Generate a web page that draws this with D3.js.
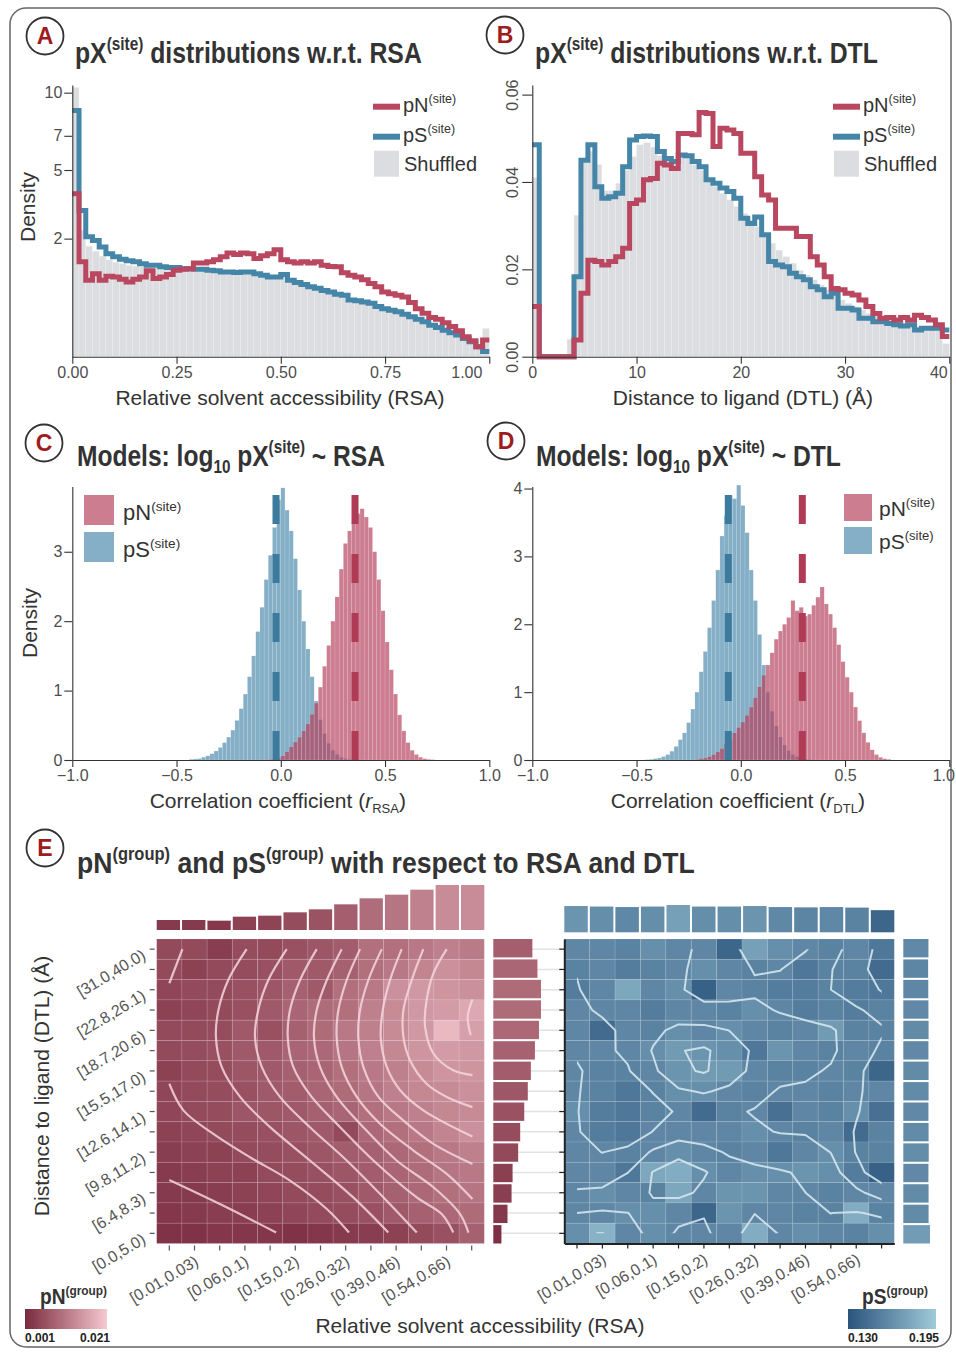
<!DOCTYPE html>
<html>
<head>
<meta charset="utf-8">
<script src="https://cdn.jsdelivr.net/npm/d3@7"></script>
<style>
  body { margin: 0; background: #fff; }
  svg { font-family: "Liberation Sans", Arial, Helvetica, sans-serif; }
  svg text { white-space: pre; }
  .ttl { font-family: "Liberation Sans", Arial, sans-serif; font-weight: bold; }
</style>
</head>
<body>
<svg id="fig" width="956" height="1352"></svg>
<script>
// ---------- A: site-level densities along RSA (bin width 1/62) ----------
const rsaBinWidth = 1 / 62;
const pnSiteRSA = [3.81,1.29,0.84,0.99,0.84,0.93,0.91,0.86,0.80,0.86,0.91,1.06,0.88,0.91,0.97,1.07,1.10,1.11,1.26,1.26,
  1.29,1.35,1.43,1.54,1.50,1.54,1.52,1.38,1.46,1.52,1.64,1.35,1.29,1.26,1.29,1.26,1.29,1.20,1.17,1.16,
  1.01,0.95,0.91,0.85,0.77,0.70,0.60,0.57,0.54,0.51,0.42,0.33,0.27,0.22,0.20,0.165,0.13,0.096,0.057,0.037,0.014,0.04];
const psSiteRSA = [8.69,3.07,2.06,1.94,1.73,1.52,1.43,1.36,1.32,1.29,1.24,1.20,1.20,1.16,1.14,1.14,1.11,1.11,1.10,1.10,
  1.07,1.06,1.03,1.03,1.02,1.03,1.03,0.99,0.95,0.91,0.91,0.97,0.84,0.79,0.75,0.70,0.67,0.63,0.60,0.56,
  0.54,0.46,0.45,0.43,0.41,0.36,0.33,0.31,0.29,0.26,0.23,0.20,0.175,0.143,0.123,0.10,0.082,0.067,0.048,0.032,0.014,0.004];
const shuffledRSA = [10.4,2.3,1.75,1.6,1.45,1.35,1.28,1.24,1.2,1.18,1.16,1.14,1.12,1.12,1.1,1.1,1.09,1.09,1.08,1.08,
  1.07,1.06,1.05,1.05,1.04,1.03,1.02,1.0,0.98,0.96,0.95,0.95,0.84,0.80,0.76,0.72,0.68,0.64,0.61,0.57,
  0.54,0.48,0.46,0.44,0.41,0.37,0.34,0.32,0.30,0.27,0.24,0.21,0.18,0.15,0.13,0.11,0.09,0.07,0.05,0.035,0.02,0.115];
const rsaTicks = [0, 0.25, 0.5, 0.75, 1];
const densityTicksA = [2, 5, 7, 10];

// ---------- B: site-level densities along DTL (bin width 2/3 Å) ----------
const dtlBinWidth = 2 / 3;
const pnSiteDTL = [0.0115,0,0,0,0,0,0.0038,0.0145,0.0221,0.0218,0.021,0.0218,0.0229,0.0248,0.0351,0.0359,0.0405,0.0408,0.0443,0.0439,
  0.0431,0.0511,0.0511,0.0508,0.0559,0.0557,0.0481,0.0523,0.0519,0.0511,0.0466,0.0466,0.0412,0.037,0.0359,0.0294,0.0294,0.0294,0.0275,0.0275,
  0.0229,0.021,0.0183,0.0156,0.0153,0.0145,0.0141,0.013,0.0115,0.0099,0.0088,0.009,0.0084,0.009,0.0084,0.0095,0.009,0.0084,0.0073,0.0046];
const psSiteDTL = [0.0485,0,0,0,0,0,0.0183,0.045,0.0485,0.0389,0.0363,0.0366,0.0374,0.0435,0.0496,0.0504,0.0505,0.0504,0.047,0.0454,
  0.0447,0.0462,0.046,0.0447,0.0435,0.0405,0.0397,0.0386,0.0378,0.0363,0.0317,0.0305,0.032,0.0279,0.0218,0.021,0.0206,0.0191,0.0183,0.0176,
  0.016,0.0153,0.0137,0.0145,0.0111,0.0111,0.0107,0.0088,0.0088,0.008,0.008,0.0076,0.0073,0.007,0.0073,0.0061,0.0065,0.0065,0.0065,0.0061];
const shuffledDTL = [0.041,0,0,0,0,0.004,0.0324,0.045,0.047,0.044,0.038,0.038,0.0397,0.0427,0.0458,0.0485,0.049,0.048,0.046,0.045,
  0.045,0.046,0.0458,0.044,0.0427,0.0405,0.039,0.0374,0.0359,0.0344,0.0328,0.0313,0.0298,0.0279,0.026,0.0244,0.0229,0.0214,0.0198,0.0187,
  0.0176,0.0164,0.0153,0.0141,0.013,0.0122,0.0115,0.0107,0.0099,0.0093,0.0088,0.0084,0.008,0.0076,0.0073,0.0069,0.0065,0.0063,0.006,0.003];
const dtlTicks = [0, 10, 20, 30, 40];
const densityTicksB = [0, 0.02, 0.04, 0.06];

// ---------- C, D: model correlation histograms (bin width 0.02) ----------
const corrBinWidth = 0.02;
const corrRsaPSStart = -0.44;
const corrRsaPS = [0.01,0.015,0.02,0.04,0.06,0.09,0.13,0.18,0.25,0.33,0.43,0.57,0.74,0.95,1.2,1.5,1.85,2.2,2.6,2.95,
  3.35,3.75,3.92,3.6,3.3,2.9,2.45,2.0,1.6,1.2,0.85,0.58,0.38,0.24,0.14,0.08,0.04,0.02,0.01];
const corrRsaPNStart = -0.06;
const corrRsaPN = [0.01,0.02,0.03,0.06,0.12,0.19,0.26,0.33,0.42,0.52,0.66,0.82,1.05,1.35,1.65,2.0,2.35,2.75,3.12,3.3,
  3.42,3.55,3.62,3.5,3.35,3.0,2.6,2.15,1.7,1.3,0.95,0.65,0.42,0.25,0.14,0.08,0.04,0.02,0.01,0.005];
const corrDtlPSStart = -0.46;
const corrDtlPS = [0.005,0.01,0.02,0.03,0.05,0.08,0.13,0.2,0.3,0.4,0.55,0.75,1.0,1.3,1.6,1.95,2.35,2.8,3.3,3.6,
  3.9,3.85,4.05,3.75,3.35,2.8,2.35,1.85,1.4,1.0,0.72,0.5,0.34,0.22,0.14,0.08,0.05,0.03,0.015,0.005];
const corrDtlPNStart = -0.22;
const corrDtlPN = [0.01,0.02,0.03,0.05,0.08,0.12,0.17,0.24,0.31,0.4,0.48,0.56,0.66,0.78,0.92,1.08,1.25,1.4,1.58,1.78,
  1.9,2.0,2.1,2.35,2.2,2.25,2.12,2.15,2.28,2.4,2.55,2.3,2.15,1.95,1.7,1.45,1.22,1.0,0.78,0.58,0.4,0.26,0.15,0.08,0.04,0.02,0.01];
const corrRsaMedians = [-0.023, 0.356];   // pS, pN
const corrDtlMedians = [-0.06, 0.295];    // pS, pN
const corrTicks = [-1, -0.5, 0, 0.5, 1];
const densityTicksC = [0, 1, 2, 3];
const densityTicksD = [0, 1, 2, 3, 4];

// ---------- E: group-level pN / pS over RSA x DTL bins ----------
const rsaBins = ['[0.0,0.01)','[0.01,0.03)','[0.03,0.06)','[0.06,0.1)','[0.1,0.15)','[0.15,0.2)','[0.2,0.26)',
  '[0.26,0.32)','[0.32,0.39)','[0.39,0.46)','[0.46,0.54)','[0.54,0.66)','[0.66,1.0]'];
const dtlBins = ['[0.0,5.0)','[5.0,6.4)','[6.4,8.3)','[8.3,9.8)','[9.8,11.2)','[11.2,12.6)','[12.6,14.1)','[14.1,15.5)',
  '[15.5,17.0)','[17.0,18.7)','[18.7,20.6)','[20.6,22.8)','[22.8,26.1)','[26.1,31.0)','[31.0,40.0)'];
// rows listed from the top DTL bin [31.0,40.0) down to [0.0,5.0)
const pnGroup = [
  [0.005,0.005,0.0034,0.0054,0.005,0.006,0.0066,0.0074,0.010,0.010,0.011,0.012,0.0114],
  [0.005,0.004,0.005,0.0054,0.006,0.007,0.007,0.008,0.010,0.011,0.0126,0.014,0.013],
  [0.0046,0.005,0.005,0.006,0.0066,0.008,0.007,0.010,0.011,0.014,0.015,0.0146,0.014],
  [0.004,0.0046,0.005,0.006,0.007,0.0086,0.0094,0.010,0.012,0.0134,0.015,0.0154,0.017],
  [0.005,0.005,0.0054,0.007,0.006,0.008,0.0094,0.011,0.012,0.0134,0.015,0.019,0.016],
  [0.005,0.0054,0.006,0.007,0.007,0.0086,0.009,0.0106,0.012,0.013,0.0146,0.0154,0.015],
  [0.004,0.005,0.0054,0.0066,0.007,0.008,0.0086,0.010,0.011,0.012,0.0134,0.0146,0.0146],
  [0.0046,0.005,0.0054,0.006,0.007,0.0074,0.0086,0.0094,0.0106,0.012,0.013,0.0134,0.014],
  [0.0046,0.005,0.0054,0.0066,0.0066,0.007,0.008,0.0086,0.010,0.011,0.012,0.013,0.0134],
  [0.004,0.0046,0.005,0.0054,0.006,0.0066,0.007,0.005,0.009,0.010,0.011,0.0126,0.014],
  [0.0034,0.004,0.004,0.005,0.0054,0.006,0.0066,0.0074,0.008,0.009,0.010,0.011,0.012],
  [0.003,0.0034,0.004,0.004,0.005,0.0054,0.006,0.0066,0.0074,0.0086,0.0094,0.0106,0.011],
  [0.003,0.003,0.0034,0.004,0.0046,0.005,0.0054,0.006,0.007,0.008,0.009,0.010,0.0106],
  [0.0026,0.003,0.0034,0.0034,0.004,0.0046,0.005,0.0054,0.006,0.007,0.008,0.009,0.0094],
  [0.002,0.002,0.0026,0.0026,0.0026,0.002,0.0026,0.003,0.0034,0.004,0.005,0.006,0.008]];
const psGroup = [
  [.159,.159,.156,.163,.159,.159,.140,.172,.163,.159,.156,.159,.150],
  [.156,.159,.153,.156,.159,.163,.159,.156,.159,.150,.156,.156,.143],
  [.153,.159,.176,.159,.163,.137,.159,.156,.153,.153,.156,.153,.150],
  [.159,.159,.159,.153,.159,.159,.156,.163,.159,.153,.156,.153,.156],
  [.159,.143,.159,.156,.163,.159,.163,.159,.156,.159,.169,.156,.156],
  [.159,.159,.159,.163,.169,.166,.163,.150,.166,.159,.156,.159,.156],
  [.159,.156,.156,.159,.166,.169,.169,.159,.156,.156,.159,.156,.140],
  [.159,.156,.150,.156,.163,.163,.159,.156,.159,.159,.156,.159,.159],
  [.163,.153,.150,.156,.159,.143,.156,.159,.146,.159,.156,.163,.146],
  [.159,.153,.150,.159,.159,.159,.159,.163,.159,.156,.159,.143,.156],
  [.159,.159,.156,.159,.163,.159,.156,.159,.150,.159,.163,.156,.156],
  [.159,.159,.150,.176,.179,.163,.159,.163,.163,.166,.163,.153,.137],
  [.159,.163,.159,.156,.176,.159,.166,.166,.159,.159,.156,.159,.159],
  [.159,.159,.163,.163,.159,.140,.166,.159,.159,.156,.156,.179,.156],
  [.163,.182,.159,.163,.159,.159,.159,.179,.159,.163,.159,.156,.163]];
const pnByRSA = [0.003,0.003,0.0028,0.004,0.0043,0.0053,0.0062,0.0077,0.0095,0.0106,0.0121,0.0135,0.0135];
const pnByDTL = [0.0016,0.0028,0.0036,0.0038,0.0049,0.0053,0.0061,0.0068,0.0074,0.0082,0.009,0.0094,0.0094,0.0087,0.0077];
const psByRSA = [0.1658,0.1625,0.1593,0.1625,0.1723,0.1625,0.1625,0.1658,0.1593,0.1573,0.1593,0.156,0.1398];
const psByDTL = [0.170,0.161,0.161,0.160,0.162,0.161,0.160,0.161,0.161,0.160,0.161,0.160,0.159,0.158,0.160];
const pnRange = [0.001, 0.021];
const psRange = [0.130, 0.195];
const psLevels = [0.1500, 0.1525, 0.1550, 0.1575, 0.1600, 0.1625, 0.1650, 0.1675, 0.1700];
// contour lines of the pN model surface, [RSA bin position, DTL bin position]
const pnContours = [
  [[1.02,14.5],[0.5,12.82]],
  [[0.5,3.13],[2.65,1.86],[4.74,0.54]],
  [[0.5,7.87],[1.06,6.56],[2.25,5.4],[3.7,4.25],[5.29,3.1],[6.75,1.7],[7.63,0.54]],
  [[3.57,14.5],[2.84,12.98],[2.45,11.5],[2.35,10.18],[2.58,8.7],[3.31,7.22],[4.5,5.73],[6.08,4.09],[7.8,2.27],[9.19,0.54]],
  [[5.16,14.5],[4.43,12.98],[4.03,11.5],[3.9,10.18],[4.17,8.7],[4.89,7.22],[6.08,5.73],[7.54,4.09],[9.0,2.27],[10.32,0.54]],
  [[6.35,14.5],[5.69,12.98],[5.29,11.5],[5.2,10.18],[5.42,8.7],[6.15,7.22],[7.28,5.73],[8.6,4.09],[10.32,2.27],[11.31,1.45],[11.77,0.54]],
  [[7.34,14.5],[6.75,12.98],[6.35,11.5],[6.24,10.18],[6.48,8.7],[7.14,7.22],[8.2,5.73],[9.52,4.09],[10.98,2.77],[12.04,1.45],[12.37,0.54]],
  [[8.07,14.5],[7.54,12.98],[7.21,11.5],[7.14,10.18],[7.34,8.7],[7.94,7.22],[8.86,5.9],[10.19,4.58],[11.51,3.43],[12.53,2.19]],
  [[8.93,14.5],[8.4,12.98],[8.07,11.5],[8.0,10.18],[8.2,8.7],[8.8,7.22],[9.79,6.06],[10.98,4.91],[12.53,3.92]],
  [[9.72,14.5],[9.26,12.98],[8.97,11.5],[8.89,10.18],[9.13,8.7],[9.66,7.55],[10.58,6.56],[12.53,5.27]],
  [[10.58,14.5],[10.12,12.98],[9.79,11.5],[9.79,10.18],[10.05,9.03],[10.71,7.87],[11.51,7.22],[12.53,6.72]],
  [[11.51,14.5],[10.98,13.31],[10.71,11.99],[10.65,10.68],[10.98,9.36],[11.77,8.53],[12.53,8.29]],
  [[12.53,12.03],[12.34,11.17],[12.46,10.26]]];

// ---------- drawing ----------
const svg = d3.select('#fig');
const RED = '#b8475f', BLUE = '#4485a8', GREY = '#dcdde0';
const RED_BAR = '#b53f5b', BLUE_BAR = '#4a89ad';
const TXT = '#333', TICK = '#4d4d4d';

svg.append('rect').attr('x', 10).attr('y', 8).attr('width', 941).attr('height', 1339).attr('rx', 16)
  .attr('fill', 'none').attr('stroke', '#666').attr('stroke-width', 1.5);

function rich(sel, parts, size) {
  let shift = 0;
  parts.forEach(p => {
    const [s, k] = Array.isArray(p) ? p : [p, 'n'];
    const target = k === 'sup' ? -0.42 * size : k === 'sub' ? 0.24 * size : 0;
    const t = sel.append('tspan').attr('dy', target - shift).text(s);
    if (k === 'sup' || k === 'sub') t.attr('font-size', size * 0.62);
    if (k === 'it') t.attr('font-style', 'italic');
    shift = target;
  });
  return sel;
}
function label(x, y, parts, size, opts = {}) {
  const t = svg.append('text').attr('x', x).attr('y', y).attr('font-size', size).attr('fill', opts.fill || TXT);
  if (opts.cls) t.attr('class', opts.cls);
  if (opts.anchor) t.attr('text-anchor', opts.anchor);
  if (opts.rotate) t.attr('transform', `rotate(${opts.rotate},${x},${y})`);
  rich(t, parts, size);
  if (opts.width) {
    // squeeze the bold titles to the condensed width of the original face
    const w = t.node().getBBox().width;
    if (w > 0) t.attr('transform', `translate(${x},0) scale(${opts.width / w},1) translate(${-x},0)`);
  }
  return t;
}
function panelLabel(cx, cy, letter) {
  svg.append('circle').attr('cx', cx).attr('cy', cy).attr('r', 18.5)
    .attr('fill', '#fff').attr('stroke', '#333').attr('stroke-width', 1.8);
  svg.append('text').attr('x', cx).attr('y', cy + 8).attr('text-anchor', 'middle')
    .attr('font-size', 23).attr('font-weight', 'bold').attr('fill', '#9e1b1e').text(letter);
}
function axes(x, y, xt, yt, xfmt, yfmt) {
  const gx = svg.append('g').attr('transform', `translate(0,${y.range()[0]})`)
    .call(d3.axisBottom(x).tickValues(xt).tickFormat(xfmt).tickSize(7).tickPadding(3).tickSizeOuter(0));
  const gy = svg.append('g').attr('transform', `translate(${x.range()[0]},0)`)
    .call(d3.axisLeft(y).tickValues(yt).tickFormat(yfmt).tickSize(8).tickPadding(2).tickSizeOuter(0));
  [gx, gy].forEach(a => {
    a.attr('font-size', null).attr('font-family', null);
    a.selectAll('text').attr('font-size', 16).attr('fill', TICK);
    a.selectAll('line, path').attr('stroke', '#333').attr('stroke-width', 1.1);
  });
  return [gx, gy];
}

// ----- A -----
panelLabel(45, 36, 'A');
label(75, 63, ['pX', ['(site)', 'sup'], ' distributions w.r.t. RSA'], 30, { cls: 'ttl', width: 347 });
const xA = d3.scaleLinear().domain([0, 1]).range([72.3, 489.3]);
const yA = d3.scaleSqrt().domain([0, 10.59]).range([356.7, 85]);
svg.append('g').selectAll('rect').data(shuffledRSA).join('rect')
  .attr('x', (d, i) => xA(i * rsaBinWidth)).attr('width', xA(rsaBinWidth) - xA(0))
  .attr('y', d => yA(d)).attr('height', d => yA(0) - yA(d))
  .attr('fill', GREY).attr('stroke', '#f2f2f2').attr('stroke-width', 0.3);
function steps(vals, w) {
  const pts = vals.map((v, i) => [i * w, v]);
  pts.push([vals.length * w, vals[vals.length - 1]]);
  return pts;
}
const lineA = d3.line().x(d => xA(d[0])).y(d => yA(d[1])).curve(d3.curveStepAfter);
[[psSiteRSA, BLUE], [pnSiteRSA, RED]].forEach(([v, c]) => {
  svg.append('path').attr('d', lineA(steps(v, rsaBinWidth))).attr('fill', 'none')
    .attr('stroke', c).attr('stroke-width', 5);
});
const [axA] = axes(xA, yA, rsaTicks, densityTicksA, d3.format('.2f'), d3.format('d'));
axA.selectAll('.tick text').filter(d => d === 1).attr('dx', -23);
label(280, 405, ['Relative solvent accessibility (RSA)'], 21, { anchor: 'middle' });
label(35, 207, ['Density'], 21, { anchor: 'middle', rotate: -90 });
function lineLegend(x, yTop) {
  svg.append('line').attr('x1', x).attr('x2', x + 27).attr('y1', yTop).attr('y2', yTop).attr('stroke', RED).attr('stroke-width', 6);
  svg.append('line').attr('x1', x).attr('x2', x + 27).attr('y1', yTop + 30).attr('y2', yTop + 30).attr('stroke', BLUE).attr('stroke-width', 6);
  svg.append('rect').attr('x', x + 1).attr('y', yTop + 44).attr('width', 25).attr('height', 26).attr('fill', GREY);
  label(x + 30, yTop + 5, ['pN', ['(site)', 'sup']], 20);
  label(x + 30, yTop + 35, ['pS', ['(site)', 'sup']], 20);
  label(x + 31, yTop + 64, ['Shuffled'], 20);
}
lineLegend(373, 106.7);

// ----- B -----
panelLabel(505, 35, 'B');
label(535, 63, ['pX', ['(site)', 'sup'], ' distributions w.r.t. DTL'], 30, { cls: 'ttl', width: 343 });
const xB = d3.scaleLinear().domain([0, 40]).range([532.3, 949.3]);
const yB = d3.scaleLinear().domain([0, 0.0622]).range([356.7, 85]);
svg.append('g').selectAll('rect').data(shuffledDTL).join('rect')
  .attr('x', (d, i) => xB(i * dtlBinWidth)).attr('width', xB(dtlBinWidth) - xB(0))
  .attr('y', d => yB(d)).attr('height', d => yB(0) - yB(d))
  .attr('fill', GREY).attr('stroke', '#f2f2f2').attr('stroke-width', 0.3);
const lineB = d3.line().x(d => xB(d[0])).y(d => yB(d[1])).curve(d3.curveStepAfter);
[[psSiteDTL, BLUE], [pnSiteDTL, RED]].forEach(([v, c]) => {
  svg.append('path').attr('d', lineB(steps(v, dtlBinWidth))).attr('fill', 'none')
    .attr('stroke', c).attr('stroke-width', 5);
});
const [axB, ayB] = axes(xB, yB, dtlTicks, densityTicksB, d3.format('d'), d3.format('.2f'));
axB.selectAll('.tick text').filter(d => d === 40).attr('dx', -11);
ayB.selectAll('.tick line').attr('x2', -10);
ayB.selectAll('.tick text').attr('x', 0).attr('y', -14).attr('dy', 0)
  .attr('text-anchor', 'middle').attr('transform', 'rotate(-90)');
label(743, 405, ['Distance to ligand (DTL) (Å)'], 21, { anchor: 'middle' });
lineLegend(833, 106.7);

// ----- C & D -----
function corrPanel(xr, yTopVal, blue, blueStart, red, redStart, medians, yt, sub) {
  const x = d3.scaleLinear().domain([-1, 1]).range(xr);
  const y = d3.scaleLinear().domain([0, yTopVal]).range([760, 486.5]);
  const bw = x(corrBinWidth) - x(0);
  [[blue, blueStart, BLUE_BAR], [red, redStart, RED_BAR]].forEach(([v, s, c]) => {
    svg.append('g').selectAll('rect').data(v).join('rect')
      .attr('x', (d, i) => x(s + i * corrBinWidth)).attr('width', bw)
      .attr('y', d => y(d)).attr('height', d => y(0) - y(d))
      .attr('fill', c).attr('fill-opacity', 0.68)
      .attr('stroke', '#fff').attr('stroke-opacity', 0.25).attr('stroke-width', 0.5);
  });
  [[medians[0], '#3d7b9e'], [medians[1], '#b03b57']].forEach(([m, c]) => {
    svg.append('line').attr('x1', x(m)).attr('x2', x(m)).attr('y1', y(0)).attr('y2', 491.7)
      .attr('stroke', c).attr('stroke-width', 7).attr('stroke-dasharray', '29,30');
  });
  const [ax] = axes(x, y, corrTicks, yt, d3.format('.1f'), d3.format('d'));
  label((xr[0] + xr[1]) / 2 - 3, 808, ['Correlation coefficient (', ['r', 'it'], [sub, 'sub'], ')'], 21, { anchor: 'middle' });
  return ax;
}
panelLabel(44, 443, 'C');
label(77, 466, ['Models: log', ['10', 'sub'], ' pX', ['(site)', 'sup'], ' ~ RSA'], 30, { cls: 'ttl', width: 308 });
corrPanel([72.3, 489.3], 3.94, corrRsaPS, corrRsaPSStart, corrRsaPN, corrRsaPNStart, corrRsaMedians, densityTicksC, 'RSA');
label(37, 623, ['Density'], 21, { anchor: 'middle', rotate: -90 });
panelLabel(506, 441, 'D');
label(536, 466, ['Models: log', ['10', 'sub'], ' pX', ['(site)', 'sup'], ' ~ DTL'], 30, { cls: 'ttl', width: 305 });
const axD = corrPanel([532.3, 949.3], 4.03, corrDtlPS, corrDtlPSStart, corrDtlPN, corrDtlPNStart, corrDtlMedians, densityTicksD, 'DTL');
axD.selectAll('.tick text').filter(d => d === 1).attr('dx', -6);
function boxLegend(x, y, w, h, gap, tx, fs) {
  svg.append('rect').attr('x', x).attr('y', y).attr('width', w).attr('height', h).attr('fill', RED_BAR).attr('fill-opacity', 0.68);
  svg.append('rect').attr('x', x).attr('y', y + h + gap).attr('width', w).attr('height', h).attr('fill', BLUE_BAR).attr('fill-opacity', 0.68);
  label(tx, y + h - 5, ['pN', ['(site)', 'sup']], fs);
  label(tx, y + 2 * h + gap - 5, ['pS', ['(site)', 'sup']], fs);
}
boxLegend(84, 495, 30, 30, 7, 123, 22);
boxLegend(844, 494, 28, 27, 6, 879, 21);

// ----- E -----
panelLabel(45, 848, 'E');
label(77, 873, ['pN', ['(group)', 'sup'], ' and pS', ['(group)', 'sup'], ' with respect to RSA and DTL'], 30, { cls: 'ttl', width: 618 });
const hmTop = 939, hmBottom = 1243.5;
const colorPN = d3.scaleLinear().domain(pnRange).range(['#7a2a40', '#f5c9d1']).interpolate(d3.interpolateLab).clamp(true);
const colorPS = d3.scaleLinear().domain(psRange).range(['#2a557d', '#9fcbd9']).interpolate(d3.interpolateLab).clamp(true);
const rowsTopDown = dtlBins.slice().reverse();

function heatmap(x0, x1, grid, color) {
  const x = d3.scaleBand().domain(rsaBins).range([x0, x1]);
  const y = d3.scaleBand().domain(rowsTopDown).range([hmTop, hmBottom]);
  const cells = [];
  grid.forEach((row, r) => row.forEach((v, c) => cells.push({ r: rowsTopDown[r], c: rsaBins[c], v })));
  svg.append('g').selectAll('rect').data(cells).join('rect')
    .attr('x', d => x(d.c)).attr('y', d => y(d.r)).attr('width', x.bandwidth()).attr('height', y.bandwidth())
    .attr('fill', d => color(d.v)).attr('stroke', '#fff').attr('stroke-opacity', 0.13).attr('stroke-width', 0.8);
  return { x, y };
}

// grid lines behind the DTL margin of the pN map
const yRows = d3.scaleBand().domain(rowsTopDown).range([hmTop, hmBottom]);
svg.append('g').selectAll('line').data(dtlBins).join('line')
  .attr('x1', 493).attr('x2', 562).attr('y1', d => yRows(d) + yRows.bandwidth() / 2).attr('y2', d => yRows(d) + yRows.bandwidth() / 2)
  .attr('stroke', '#e2e2e2').attr('stroke-width', 1.5);

const L = heatmap(156.7, 484.3, pnGroup, colorPN);
const R = heatmap(564.3, 894.3, psGroup, colorPS);

// marginal bars
function topBars(bx, vals, color, bottom, maxV, maxH) {
  const h = d3.scaleLinear().domain([0, maxV]).range([0, maxH]);
  const xb = bx.copy().paddingInner(0.08);
  svg.append('g').selectAll('rect').data(vals).join('rect')
    .attr('x', (d, i) => xb(rsaBins[i])).attr('width', xb.bandwidth())
    .attr('y', d => bottom - h(d)).attr('height', d => h(d)).attr('fill', d => color(d));
}
function sideBars(left, vals, color, maxV, maxW) {
  const w = d3.scaleLinear().domain([0, maxV]).range([0, maxW]);
  const yb = yRows.copy().paddingInner(0.1);
  svg.append('g').selectAll('rect').data(vals).join('rect')
    .attr('x', left).attr('width', d => w(d))
    .attr('y', (d, i) => yb(dtlBins[i])).attr('height', yb.bandwidth()).attr('fill', d => color(d));
}
topBars(L.x, pnByRSA, colorPN, 930, 0.0135, 45);
sideBars(493.3, pnByDTL, colorPN, 0.0094, 47.7);
topBars(R.x, psByRSA, colorPS, 932.3, 0.1723, 27.3);
sideBars(903.3, psByDTL, colorPS, 0.17, 26.7);

// pN model contours
const cxL = d3.scaleLinear().domain([0, 13]).range([156.7, 484.3]);
const cyL = d3.scaleLinear().domain([0, 15]).range([hmBottom, hmTop]);
const contourLine = d3.line().x(d => cxL(d[0])).y(d => cyL(d[1])).curve(d3.curveCatmullRom);
svg.append('g').selectAll('path').data(pnContours).join('path')
  .attr('d', contourLine).attr('fill', 'none').attr('stroke', '#f6d6dc').attr('stroke-opacity', 0.85).attr('stroke-width', 2.2);

// pS contours from the (lightly smoothed) grid
const gxR = d3.scaleLinear().domain([0, 13]).range([564.3, 894.3]);
const gyR = d3.scaleLinear().domain([0, 15]).range([hmTop, hmBottom]);
svg.append('clipPath').attr('id', 'clipR').append('rect')
  .attr('x', gxR(0.5)).attr('y', gyR(0.5)).attr('width', gxR(12.5) - gxR(0.5)).attr('height', gyR(14.5) - gyR(0.5));
let psSurface = Float64Array.from(psGroup.flat());
if (d3.blur2) psSurface = d3.blur2({ data: psSurface, width: 13, height: 15 }, 0.4).data;
const psContours = d3.contours().size([13, 15]).thresholds(psLevels)(psSurface);
const proj = d3.geoTransform({ point(px, py) { this.stream.point(gxR(px), gyR(py)); } });
svg.append('g').attr('clip-path', 'url(#clipR)').selectAll('path').data(psContours).join('path')
  .attr('d', d3.geoPath(proj)).attr('fill', 'none').attr('stroke', '#d3e6ee').attr('stroke-opacity', 0.9)
  .attr('stroke-width', 2).attr('stroke-linejoin', 'round');

// heatmap axes
function hmAxes(H, x0, withYLabels, dark) {
  const col = dark ? '#222' : '#555';
  const ax = svg.append('g').attr('transform', `translate(0,${hmBottom + (dark ? 0 : 2)})`)
    .call(d3.axisBottom(H.x).tickSize(5).tickPadding(2).tickSizeOuter(0).tickFormat((d, i) => i % 2 === 1 ? d : ''));
  const ay = svg.append('g').attr('transform', `translate(${x0 - (dark ? 0 : 2)},0)`)
    .call(d3.axisLeft(H.y).tickSize(5).tickPadding(2).tickSizeOuter(0)
      .tickFormat(d => withYLabels && dtlBins.indexOf(d) % 2 === 0 ? d : ''));
  [ax, ay].forEach(a => {
    a.attr('font-size', null).attr('font-family', null);
    a.selectAll('line').attr('stroke', col).attr('stroke-width', 1.2);
    a.select('.domain').attr('stroke', dark ? '#222' : 'none').attr('stroke-width', 2);
    a.selectAll('text').attr('font-size', 16).attr('fill', '#555');
  });
  ax.selectAll('.tick text').attr('x', 0).attr('y', 0).attr('dy', 0).attr('text-anchor', 'end')
    .attr('transform', 'translate(5,19) rotate(-31)');
  ay.selectAll('.tick text').attr('x', 0).attr('y', 0).attr('dy', 0).attr('text-anchor', 'end')
    .attr('transform', 'translate(-8,9) rotate(-31)');
}
hmAxes(L, 156.7, true, false);
hmAxes(R, 564.3, false, true);

label(480, 1333, ['Relative solvent accessibility (RSA)'], 21, { anchor: 'middle' });
label(49, 1086, ['Distance to ligand (DTL) (Å)'], 21, { anchor: 'middle', rotate: -90 });

// colour bars
function colorBar(id, x, y, w, h, color, range, title, tx, tw) {
  const grad = svg.append('defs').append('linearGradient').attr('id', id);
  d3.range(0, 1.001, 0.1).forEach(t => grad.append('stop').attr('offset', t)
    .attr('stop-color', color(range[0] + t * (range[1] - range[0]))));
  svg.append('rect').attr('x', x).attr('y', y).attr('width', w).attr('height', h).attr('fill', `url(#${id})`);
  label(tx, 1304, title, 22, { cls: 'ttl', width: tw });
  const f = d3.format('.3f');
  label(x, y + h + 13, [f(range[0])], 12, { cls: 'ttl', fill: '#222' });
  label(x + w + 3, y + h + 13, [f(range[1])], 12, { cls: 'ttl', anchor: 'end', fill: '#222' });
}
colorBar('gPN', 25, 1309, 82, 20, colorPN, pnRange, ['pN', ['(group)', 'sup']], 40, 67);
colorBar('gPS', 848, 1309, 88, 20, colorPS, psRange, ['pS', ['(group)', 'sup']], 862, 66);
</script>
</body>
</html>
